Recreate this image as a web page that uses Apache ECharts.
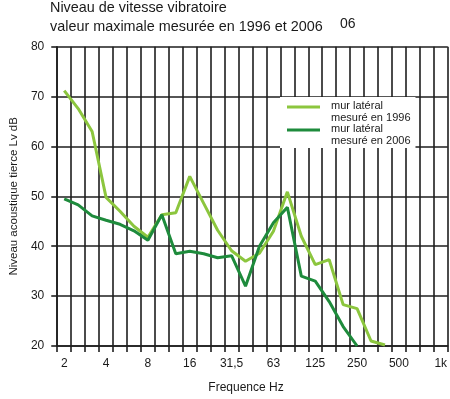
<!DOCTYPE html>
<html>
<head>
<meta charset="utf-8">
<title>Niveau de vitesse vibratoire</title>
<script src="https://cdn.jsdelivr.net/npm/echarts@6/dist/echarts.min.js"></script>
<style>
  html, body { margin: 0; padding: 0; background: #fff; }
  #chart { width: 450px; height: 399px; }
</style>
</head>
<body>
<div id="chart"></div>
<script>
// bandes de tiers d'octave, 2 Hz .. 1 kHz
const bands = ['2', '2,5', '3,15', '4', '5', '6,3', '8', '10', '12,5', '16', '20', '25',
  '31,5', '40', '50', '63', '80', '100', '125', '160', '200', '250', '315', '400',
  '500', '630', '800', '1k'];

// niveaux (dB)
const mur1996 = [71.2, 67.6, 63.0, 49.8, 47.0, 44.0, 41.8, 46.3, 46.7, 54.0, 48.6, 43.2,
  39.1, 37.0, 38.6, 43.0, 50.9, 42.0, 36.3, 37.3, 28.3, 27.5, 21.0, 20.2];
const mur2006 = [49.5, 48.3, 46.1, 45.2, 44.4, 43.1, 41.2, 46.3, 38.5, 39.0, 38.5, 37.7,
  38.1, 32.0, 40.0, 44.7, 47.8, 34.0, 33.0, 28.9, 23.9, 20.0];

const yTicks = [20, 30, 40, 50, 60, 70, 80];

const FONT = 'Liberation Sans';
const INK = '#1a1a1a';
const GRID = '#1e1e1e';

const chart = echarts.init(document.getElementById('chart'));

const option = {
  backgroundColor: '#fff',
  animation: false,
  textStyle: { fontFamily: FONT },
  title: [
    {
      text: 'Niveau de vitesse vibratoire\nvaleur maximale mesurée en 1996 et 2006',
      left: 50,
      top: -1,
      padding: 0,
      textStyle: { fontFamily: FONT, fontSize: 14.4, fontWeight: 'normal', color: INK, lineHeight: 19 }
    },
    {
      text: '06',
      left: 340,
      top: 17,
      padding: 0,
      textStyle: { fontFamily: FONT, fontSize: 14, fontWeight: 'normal', color: INK, lineHeight: 14 }
    }
  ],
  legend: {
    left: 280,
    top: 97,
    orient: 'vertical',
    padding: [3, 5, 1, 7],
    itemGap: -1,
    itemWidth: 33,
    itemHeight: 24,
    // trait en haut de l'icone, aligne sur la premiere ligne du texte
    icon: 'path://M0,0M0,24M0,5.5H33V8.5H0Z',
    backgroundColor: '#fff',
    textStyle: { fontFamily: FONT, fontSize: 11, color: INK, lineHeight: 12, padding: [0, 0, 0, 6] },
    data: ['mur latéral\nmesuré en 1996', 'mur latéral\nmesuré en 2006']
  },
  grid: {
    left: 52.7,
    right: 0.5,
    top: 46.7,
    bottom: 53
  },
  xAxis: {
    type: 'category',
    data: bands,
    boundaryGap: true,
    name: 'Frequence Hz',
    nameLocation: 'middle',
    nameGap: 36,
    nameTextStyle: { fontFamily: FONT, fontSize: 12, color: INK, padding: [0, 13, 0, 0] },
    axisLine: { show: true, lineStyle: { color: GRID, width: 1.6 } },
    axisTick: { show: true, interval: 0, length: 6, lineStyle: { color: GRID, width: 1.6 } },
    axisLabel: { interval: 2, margin: 12, fontSize: 12, color: INK, fontFamily: FONT },
    splitLine: { show: true, interval: 0, lineStyle: { color: GRID, width: 1.6 } }
  },
  yAxis: {
    type: 'value',
    min: yTicks[0],
    max: yTicks[yTicks.length - 1],
    interval: 10,
    name: 'Niveau acoustique tierce Lv dB',
    nameLocation: 'middle',
    nameGap: 34,
    nameTextStyle: { fontFamily: FONT, fontSize: 11.5, color: INK },
    axisLine: { show: true, lineStyle: { color: GRID, width: 1.6 } },
    axisTick: { show: true, length: 6, lineStyle: { color: GRID, width: 1.6 } },
    axisLabel: { margin: 13, fontSize: 12, color: INK, fontFamily: FONT },
    splitLine: { show: true, lineStyle: { color: GRID, width: 1.6 } }
  },
  series: [
    {
      name: 'mur latéral\nmesuré en 1996',
      type: 'line',
      data: mur1996,
      symbol: 'none',
      color: '#8cc63e',
      lineStyle: { width: 3, color: '#8cc63e' }
    },
    {
      name: 'mur latéral\nmesuré en 2006',
      type: 'line',
      data: mur2006,
      symbol: 'none',
      color: '#1e8b3c',
      lineStyle: { width: 3, color: '#1e8b3c' }
    }
  ]
};

chart.setOption(option);
</script>
</body>
</html>
